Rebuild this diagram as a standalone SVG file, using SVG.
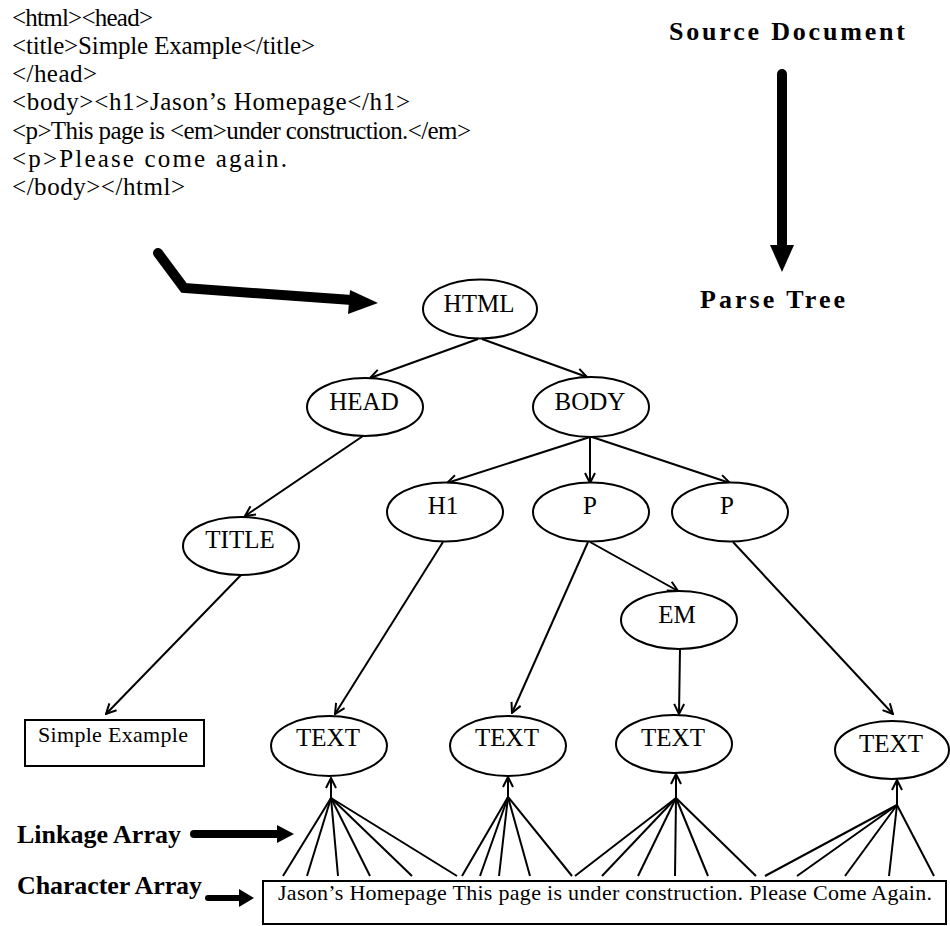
<svg xmlns="http://www.w3.org/2000/svg" width="950" height="926" viewBox="0 0 950 926">
  <defs>
    <style>
      .src { font-family: "Liberation Serif", "Times New Roman", serif; font-size: 25px; fill: #000; }
      .label { font-family: "Liberation Serif", "Times New Roman", serif; font-size: 26px; font-weight: bold; fill: #000; }
      .node ellipse { fill: #fff; stroke: #000; stroke-width: 2; }
      .node text { font-family: "Liberation Serif", "Times New Roman", serif; font-size: 25px; fill: #000; text-anchor: middle; }
      .box rect { fill: #fff; stroke: #000; stroke-width: 2; }
      .box text { font-family: "Liberation Serif", "Times New Roman", serif; font-size: 22px; fill: #000; }
      .edge { fill: none; stroke: #000; stroke-width: 2; }
      .edge-arrow { marker-end: url(#vee); }
      .fan line { stroke: #000; stroke-width: 2; }
      .bold-arrow { fill: none; stroke: #000; stroke-linecap: round; stroke-linejoin: miter; }
    </style>
    <marker id="vee" viewBox="0 0 12 12" refX="11" refY="6" markerWidth="12" markerHeight="12" markerUnits="userSpaceOnUse" orient="auto">
      <polyline points="1,1 11,6 1,11" fill="none" stroke="#000" stroke-width="2"/>
    </marker>
  </defs>

  <rect width="950" height="926" fill="#fff"/>

  <!-- HTML source listing -->
  <g id="source-listing">
    <text class="src" x="12" y="26" textLength="141" lengthAdjust="spacing">&lt;html&gt;&lt;head&gt;</text>
    <text class="src" x="12" y="54" textLength="303" lengthAdjust="spacing">&lt;title&gt;Simple Example&lt;/title&gt;</text>
    <text class="src" x="12" y="82" textLength="85" lengthAdjust="spacing">&lt;/head&gt;</text>
    <text class="src" x="12" y="110" textLength="398" lengthAdjust="spacing">&lt;body&gt;&lt;h1&gt;Jason’s Homepage&lt;/h1&gt;</text>
    <text class="src" x="12" y="139" textLength="459" lengthAdjust="spacing">&lt;p&gt;This page is &lt;em&gt;under construction.&lt;/em&gt;</text>
    <text class="src" x="12" y="167" textLength="275" lengthAdjust="spacing">&lt;p&gt;Please come again.</text>
    <text class="src" x="12" y="195" textLength="173" lengthAdjust="spacing">&lt;/body&gt;&lt;/html&gt;</text>
  </g>

  <!-- Side labels -->
  <g id="side-labels">
    <text class="label" x="669" y="40" textLength="236" lengthAdjust="spacing">Source Document</text>
    <text class="label" x="700" y="308" textLength="145" lengthAdjust="spacing">Parse Tree</text>
    <text class="label" x="17" y="843">Linkage Array</text>
    <text class="label" x="17" y="894" textLength="185" lengthAdjust="spacing">Character Array</text>
  </g>

  <!-- Heavy arrows -->
  <g id="heavy-arrows">
    <line class="bold-arrow" x1="782" y1="74" x2="782" y2="248" stroke-width="10"/>
    <polygon points="770,245 794,245 782,272" fill="#000"/>

    <polyline class="bold-arrow" points="158,253 184,288 352,300" stroke-width="10"/>
    <polygon points="350,290 348,314 378,303" fill="#000"/>

    <line class="bold-arrow" x1="194" y1="834" x2="280" y2="834" stroke-width="8"/>
    <polygon points="277,825 277,843 294,834" fill="#000"/>

    <line class="bold-arrow" x1="208" y1="898" x2="242" y2="898" stroke-width="6"/>
    <polygon points="239,889 239,907 254,898" fill="#000"/>
  </g>

  <!-- Tree connectors -->
  <g id="connectors">
    <line class="edge edge-arrow" x1="478" y1="339" x2="370" y2="378"/>
    <line class="edge edge-arrow" x1="482" y1="339" x2="587" y2="377"/>
    <line class="edge edge-arrow" x1="363" y1="436" x2="245" y2="516"/>
    <line class="edge edge-arrow" x1="590" y1="437" x2="447" y2="483"/>
    <line class="edge edge-arrow" x1="590" y1="437" x2="590" y2="483"/>
    <line class="edge edge-arrow" x1="592" y1="437" x2="730" y2="483"/>
    <line class="edge edge-arrow" x1="241" y1="575" x2="106" y2="714"/>
    <line class="edge edge-arrow" x1="443" y1="542" x2="335" y2="714"/>
    <line class="edge edge-arrow" x1="588" y1="542" x2="512" y2="713"/>
    <line class="edge edge-arrow" x1="590" y1="542" x2="678" y2="591"/>
    <line class="edge edge-arrow" x1="680" y1="649" x2="679" y2="714"/>
    <line class="edge edge-arrow" x1="733" y1="542" x2="893" y2="714"/>

    <!-- Linkage array fans -->
    <g class="fan" id="fan-1">
      <line class="edge edge-arrow" x1="331" y1="798" x2="331" y2="778"/>
      <line x1="331" y1="798" x2="283" y2="876"/>
      <line x1="331" y1="798" x2="307" y2="876"/>
      <line x1="331" y1="798" x2="338" y2="876"/>
      <line x1="331" y1="798" x2="370" y2="876"/>
      <line x1="331" y1="798" x2="412" y2="876"/>
      <line x1="331" y1="798" x2="457" y2="876"/>
    </g>
    <g class="fan" id="fan-2">
      <line class="edge edge-arrow" x1="508" y1="797" x2="508" y2="777"/>
      <line x1="508" y1="797" x2="462" y2="876"/>
      <line x1="508" y1="797" x2="480" y2="876"/>
      <line x1="508" y1="797" x2="499" y2="876"/>
      <line x1="508" y1="797" x2="530" y2="876"/>
      <line x1="508" y1="797" x2="572" y2="876"/>
    </g>
    <g class="fan" id="fan-3">
      <line class="edge edge-arrow" x1="676" y1="798" x2="676" y2="774"/>
      <line x1="676" y1="798" x2="575" y2="876"/>
      <line x1="676" y1="798" x2="602" y2="876"/>
      <line x1="676" y1="798" x2="638" y2="876"/>
      <line x1="676" y1="798" x2="675" y2="876"/>
      <line x1="676" y1="798" x2="708" y2="876"/>
      <line x1="676" y1="798" x2="756" y2="876"/>
    </g>
    <g class="fan" id="fan-4">
      <line class="edge edge-arrow" x1="897" y1="805" x2="897" y2="780"/>
      <line x1="897" y1="805" x2="765" y2="876"/>
      <line x1="897" y1="805" x2="797" y2="876"/>
      <line x1="897" y1="805" x2="845" y2="876"/>
      <line x1="897" y1="805" x2="889" y2="876"/>
      <line x1="897" y1="805" x2="934" y2="876"/>
    </g>
  </g>

  <!-- Tree nodes -->
  <g id="node-html" class="node"><ellipse cx="480" cy="309" rx="57" ry="29.5"/><text x="479" y="312">HTML</text></g>
  <g id="node-head" class="node"><ellipse cx="365" cy="407" rx="58" ry="29"/><text x="364" y="410">HEAD</text></g>
  <g id="node-body" class="node"><ellipse cx="591" cy="407" rx="58" ry="30"/><text x="590" y="410">BODY</text></g>
  <g id="node-title" class="node"><ellipse cx="241" cy="546" rx="58" ry="29"/><text x="240" y="548">TITLE</text></g>
  <g id="node-h1" class="node"><ellipse cx="445" cy="512" rx="58" ry="29.5"/><text x="443" y="514">H1</text></g>
  <g id="node-p1" class="node"><ellipse cx="591" cy="512" rx="58" ry="29.5"/><text x="590" y="514">P</text></g>
  <g id="node-p2" class="node"><ellipse cx="730" cy="512" rx="58" ry="29.5"/><text x="727" y="514">P</text></g>
  <g id="node-em" class="node"><ellipse cx="679" cy="620" rx="58" ry="29"/><text x="677" y="623">EM</text></g>
  <g id="node-text1" class="node"><ellipse cx="329" cy="746" rx="58" ry="30"/><text x="328" y="746">TEXT</text></g>
  <g id="node-text2" class="node"><ellipse cx="508" cy="746" rx="58" ry="30"/><text x="507" y="746">TEXT</text></g>
  <g id="node-text3" class="node"><ellipse cx="674" cy="744" rx="58" ry="29"/><text x="673" y="746">TEXT</text></g>
  <g id="node-text4" class="node"><ellipse cx="892" cy="750" rx="57" ry="29"/><text x="891" y="752">TEXT</text></g>

  <!-- Leaf string box -->
  <g id="node-simple-example" class="box">
    <rect x="25" y="720" width="179" height="46"/>
    <text x="38" y="742" textLength="150" lengthAdjust="spacing">Simple Example</text>
  </g>

  <!-- Character array -->
  <g id="character-array" class="box">
    <rect x="263" y="881" width="683" height="43"/>
    <text x="278" y="900" textLength="654" lengthAdjust="spacing">Jason’s Homepage This page is under construction. Please Come Again.</text>
  </g>
</svg>
